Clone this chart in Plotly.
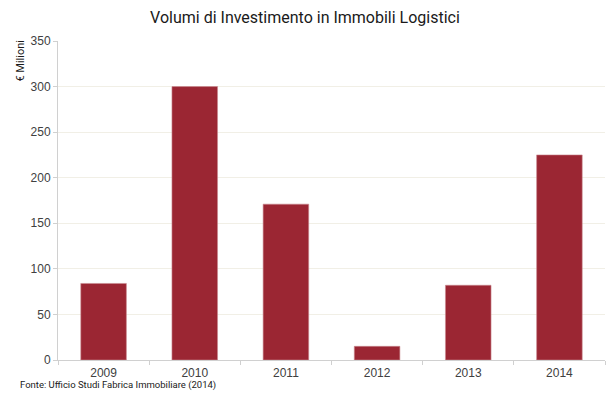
import plotly.graph_objects as go

# Investment volumes in logistics real estate (€ million)
years = ["2009", "2010", "2011", "2012", "2013", "2014"]
volumes = [84, 300, 171, 15, 82, 225]
y_ticks = [0, 50, 100, 150, 200, 250, 300, 350]

bar_color = "#9b2633"
font_family = "Roboto, Liberation Sans, Arial, sans-serif"
tick_font = dict(family="Liberation Sans, Arial, sans-serif", size=12, color="#404040")

fig = go.Figure(
    go.Bar(
        x=years,
        y=volumes,
        marker=dict(color=bar_color, line=dict(color="#c98a90", width=0.6)),
    )
)

fig.update_layout(
    width=610,
    height=394,
    margin=dict(l=58, r=5, t=41, b=34),
    paper_bgcolor="white",
    plot_bgcolor="white",
    bargap=0.5,
    showlegend=False,
    font=dict(family=font_family, color="#404040", size=12),
    title=dict(
        text="Volumi di Investimento in Immobili Logistici",
        x=0.5,
        xanchor="center",
        xref="container",
        y=1 - 17 / 394,
        yanchor="middle",
        font=dict(family=font_family, size=16, color="#1a1a1a"),
    ),
)

fig.update_xaxes(
    type="category",
    showline=True,
    linecolor="#d0d0d0",
    linewidth=1,
    ticks="outside",
    tickson="boundaries",
    ticklen=4,
    tickcolor="#d0d0d0",
    showgrid=False,
    ticklabelstandoff=2,
    tickfont=tick_font,
)

fig.update_yaxes(
    range=[0, 350],
    tickvals=y_ticks,
    showline=True,
    linecolor="#d0d0d0",
    linewidth=1,
    ticks="outside",
    ticklen=4,
    tickcolor="#d0d0d0",
    showgrid=True,
    gridcolor="#f1efe6",
    gridwidth=1,
    zeroline=False,
    tickfont=tick_font,
)

# Rotated unit label at the top of the value axis
fig.add_annotation(
    text="€ Milioni",
    textangle=-90,
    xref="paper",
    yref="paper",
    x=-0.068,
    y=1.01,
    xanchor="center",
    yanchor="top",
    showarrow=False,
    font=dict(family=font_family, size=11, color="#1a1a1a"),
)

# Source note
fig.add_annotation(
    text="Fonte: Ufficio Studi Fabrica Immobiliare (2014)",
    xref="paper",
    yref="paper",
    x=-40 / 547,
    y=-25 / 319,
    xanchor="left",
    yanchor="middle",
    showarrow=False,
    font=dict(family=font_family, size=9.5, color="#1a1a1a"),
)

fig.write_html("out.html")
